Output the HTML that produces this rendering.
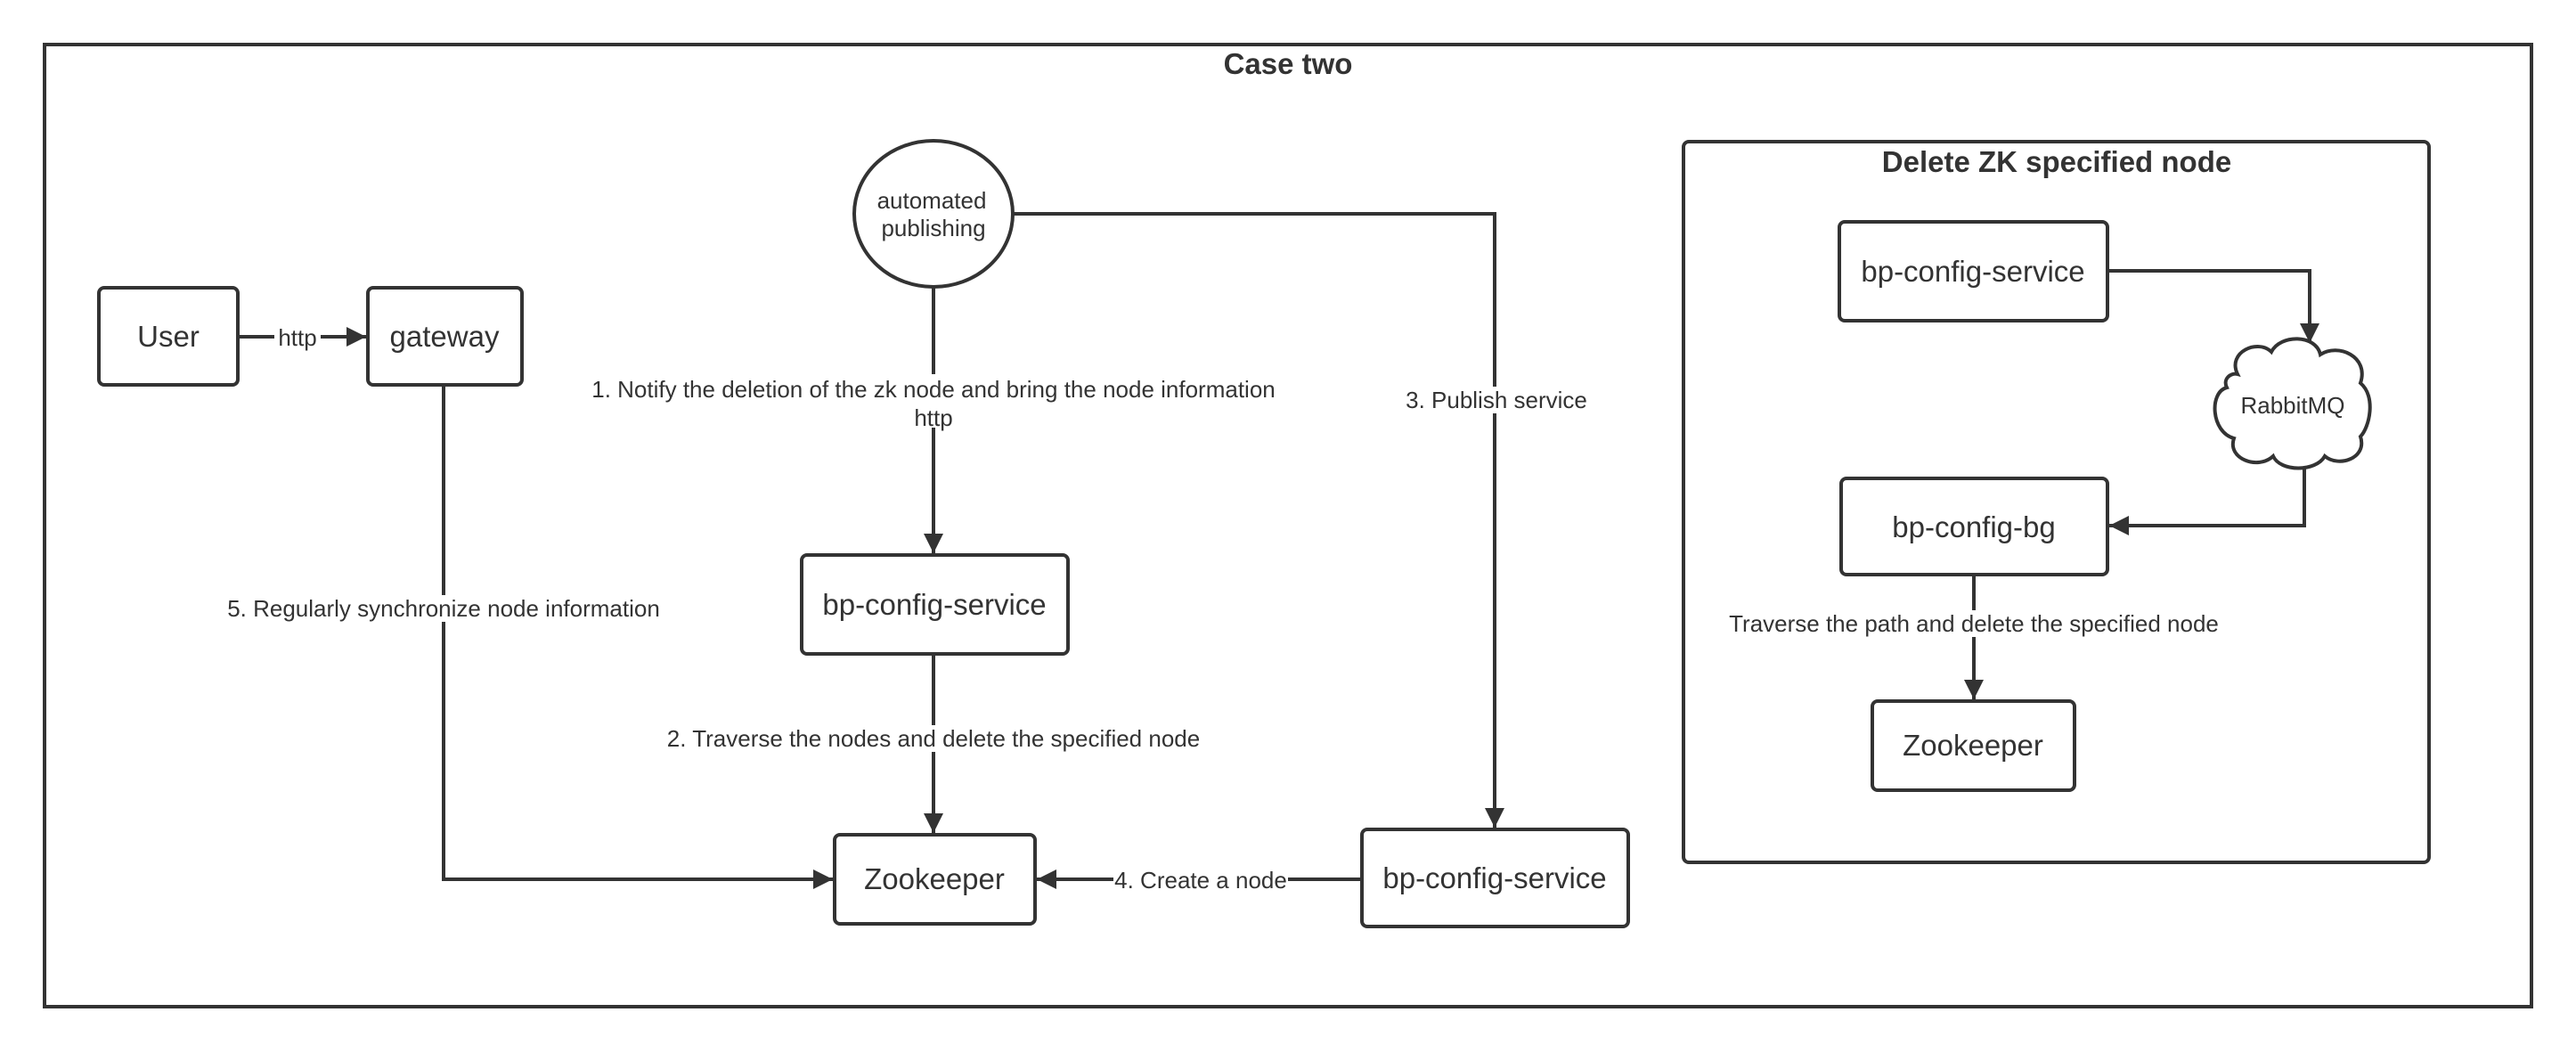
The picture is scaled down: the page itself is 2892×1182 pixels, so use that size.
<!DOCTYPE html>
<html><head><meta charset="utf-8"><style>
html,body{margin:0;padding:0;background:#fff;}
svg{display:block;}
text{font-family:"Liberation Sans",sans-serif;fill:#333;}
</style></head><body>
<svg width="2892" height="1182" viewBox="0 0 2892 1182" xmlns="http://www.w3.org/2000/svg">
<defs>
<marker id="a" viewBox="0 0 10 10" refX="10" refY="5" markerWidth="6" markerHeight="5.5" orient="auto" markerUnits="strokeWidth">
<path d="M0,0 L10,5 L0,10 z" fill="#333"/></marker>
</defs>
<rect width="2892" height="1182" fill="#fff"/>
<g fill="none" stroke="#333" stroke-width="4">
<rect x="50" y="50" width="2792" height="1080"/>
<rect x="1890" y="159" width="837" height="809" rx="6"/>
<rect x="111" y="323" width="156" height="109" rx="6"/>
<rect x="413" y="323" width="173" height="109" rx="6"/>
<ellipse cx="1048" cy="240" rx="89" ry="82"/>
<rect x="900" y="623" width="299" height="111" rx="6"/>
<rect x="937" y="937" width="225" height="100" rx="6"/>
<rect x="1529" y="931" width="299" height="109" rx="6"/>
<rect x="2065" y="249" width="301" height="111" rx="6"/>
<rect x="2067" y="537" width="299" height="108" rx="6"/>
<rect x="2102" y="787" width="227" height="100" rx="6"/>
<path d="M2512,420 C2500,395 2535,380 2550,395 C2560,375 2600,375 2605,398 C2625,385 2660,400 2650,430 C2668,445 2660,480 2650,490 C2658,515 2625,525 2610,512 C2600,530 2560,530 2552,512 C2535,528 2500,515 2508,492 C2482,485 2480,440 2500,435 C2495,425 2505,418 2512,420 z"/>
</g>
<g fill="none" stroke="#333" stroke-width="4">
<path d="M267,378 H411" marker-end="url(#a)"/>
<path d="M1048,322 V621" marker-end="url(#a)"/>
<path d="M1048,734 V935" marker-end="url(#a)"/>
<path d="M498,432 V987 H935" marker-end="url(#a)"/>
<path d="M1529,987 H1164" marker-end="url(#a)"/>
<path d="M1137,240 H1678 V929" marker-end="url(#a)"/>
<path d="M2366,304 H2593 V385" marker-end="url(#a)"/>
<path d="M2587,524 V590 H2368" marker-end="url(#a)"/>
<path d="M2216,645 V785" marker-end="url(#a)"/>
</g>
<g font-size="26" text-anchor="middle">
<rect x="308" y="362" width="52" height="32" fill="#fff"/>
<text x="334" y="388">http</text>
<rect x="640" y="420" width="816" height="60" fill="#fff"/>
<text x="1048" y="446">1. Notify the deletion of the zk node and bring the node information</text>
<text x="1048" y="478">http</text>
<rect x="250" y="668" width="496" height="30" fill="#fff"/>
<text x="498" y="692">5. Regularly synchronize node information</text>
<rect x="745" y="814" width="606" height="30" fill="#fff"/>
<text x="1048" y="838">2. Traverse the nodes and delete the specified node</text>
<rect x="1250" y="973" width="196" height="30" fill="#fff"/>
<text x="1348" y="997">4. Create a node</text>
<rect x="1578" y="434" width="204" height="30" fill="#fff"/>
<text x="1680" y="458">3. Publish service</text>
<rect x="1932" y="685" width="568" height="30" fill="#fff"/>
<text x="2216" y="709">Traverse the path and delete the specified node</text>
<text x="1046" y="234">automated</text>
<text x="1048" y="265">publishing</text>
<text x="2574" y="464">RabbitMQ</text>
</g>
<g font-size="33" text-anchor="middle">
<text x="189" y="389">User</text>
<text x="499" y="389">gateway</text>
<text x="1049" y="690">bp-config-service</text>
<text x="1049" y="998">Zookeeper</text>
<text x="1678" y="997">bp-config-service</text>
<text x="2215" y="316">bp-config-service</text>
<text x="2216" y="603">bp-config-bg</text>
<text x="2215" y="848">Zookeeper</text>
</g>
<g font-size="33" font-weight="bold" text-anchor="middle">
<text x="1446" y="83">Case two</text>
<text x="2309" y="193">Delete ZK specified node</text>
</g>
</svg>
</body></html>
